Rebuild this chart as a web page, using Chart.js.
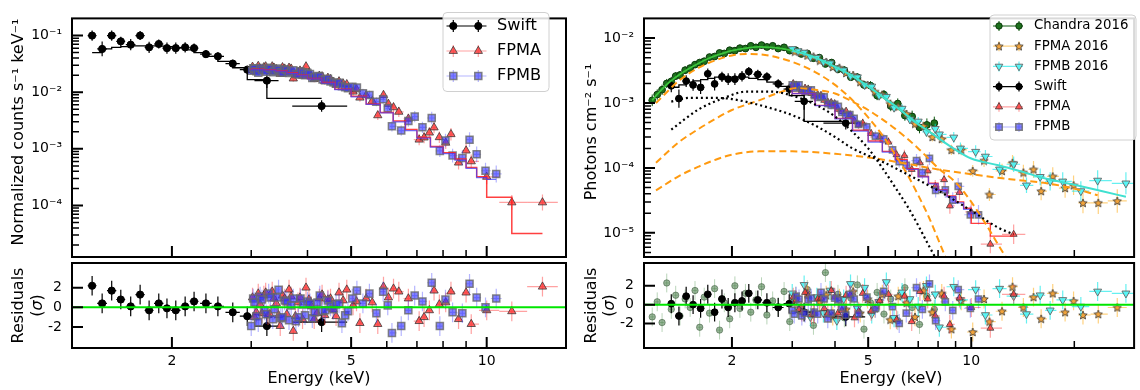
<!DOCTYPE html>
<html><head><meta charset="utf-8">
<script src="https://cdn.jsdelivr.net/npm/chart.js@4.4.0/dist/chart.umd.min.js"></script>
<style>
html,body{margin:0;padding:0;background:#fff;}
#wrap{position:relative;width:1140px;height:390px;overflow:hidden;}
canvas{position:absolute;left:0;top:0;}
</style></head><body>
<div id="wrap">
<canvas id="c1" width="1140" height="390"></canvas>
<canvas id="c2" width="1140" height="390"></canvas>
<canvas id="c3" width="1140" height="390"></canvas>
<canvas id="c4" width="1140" height="390"></canvas>
</div>
<script>
// ================= LEFT PANEL DATA =================
const L_swiftE = [1.33,1.40,1.47,1.54,1.62,1.70,1.78,1.87,1.95,2.04,2.14,2.24,2.38,2.53,2.73,2.94,3.25,4.30];
const L_swiftV = [0.100,0.058,0.100,0.079,0.069,0.100,0.062,0.071,0.060,0.060,0.062,0.060,0.047,0.043,0.032,0.025,0.016,0.0057];
const L_swiftXerr = [0.03,0.035,0.035,0.035,0.04,0.04,0.04,0.045,0.045,0.05,0.05,0.05,0.07,0.08,0.1,0.11,0.2,0.6];
const L_swiftYerr = [0.09,0.13,0.09,0.08,0.1,0.08,0.1,0.08,0.1,0.1,0.09,0.08,0.07,0.07,0.07,0.07,0.13,0.1];
const L_swiftModel = [0.050,0.050,0.058,0.062,0.064,0.066,0.066,0.066,0.065,0.064,0.061,0.056,0.050,0.043,0.035,0.027,0.0167,0.0078];
const L_swiftRes = [2.2,0.4,1.7,0.8,0.1,1.3,-0.3,0.4,-0.1,-0.3,0.1,0.6,0.4,0.1,-0.5,-0.9,-1.9,-1.5];

const L_fpmaE = [3.02,3.05,3.08,3.11,3.14,3.17,3.20,3.23,3.27,3.30,3.34,3.37,3.41,3.45,3.48,3.52,3.56,3.60,3.64,3.68,3.72,3.76,3.81,3.85,3.90,3.97,4.03,4.08,4.14,4.20,4.25,4.31,4.37,4.44,4.50,4.56,4.63,4.70,4.80,4.89,5.05,5.14,5.23,5.40,5.57,5.73,5.90,6.05,6.21,6.38,6.70,7.08,7.26,7.46,7.64,7.85,8.11,8.33,8.66,9.00,9.24,10.0,11.37,13.3];
const L_fpmaV = [0.028,0.0235,0.025,0.029,0.026,0.024,0.0275,0.0285,0.024,0.0235,0.0285,0.027,0.0255,0.023,0.021,0.0275,0.026,0.0225,0.027,0.026,0.0174,0.0205,0.0225,0.024,0.0195,0.0285,0.0215,0.0192,0.017,0.0178,0.0195,0.019,0.0155,0.0179,0.017,0.0152,0.0135,0.0155,0.0142,0.0138,0.0102,0.0112,0.0080,0.0088,0.0070,0.0039,0.0089,0.0062,0.0054,0.0045,0.0034,0.00145,0.00158,0.00193,0.00238,0.0016,0.00128,0.00181,0.00057,0.00093,0.00060,0.00032,0.000113,0.000113];
const L_fpmaYerr = [0.05,0.05,0.05,0.05,0.05,0.05,0.05,0.05,0.05,0.05,0.05,0.05,0.05,0.05,0.05,0.05,0.05,0.05,0.05,0.05,0.055,0.055,0.055,0.055,0.055,0.055,0.055,0.055,0.055,0.055,0.06,0.06,0.06,0.06,0.06,0.06,0.06,0.06,0.06,0.06,0.07,0.07,0.07,0.08,0.08,0.08,0.08,0.08,0.08,0.09,0.09,0.1,0.1,0.1,0.1,0.1,0.11,0.11,0.12,0.12,0.12,0.13,0.13,0.14];
const L_fpmaRes = [1.0,-1.0,-0.5,1.4,0.3,-0.6,1.2,1.5,-0.8,-0.7,1.6,0.9,0.4,-0.8,-1.9,1.2,0.9,-0.7,1.8,1.1,-2.4,-0.9,0.5,1.0,-1.2,2.0,0.8,0.1,-1.2,-0.6,0.9,1.3,-0.8,0.8,0.9,-0.2,-0.9,1.5,0.7,1.8,0.2,0.6,-1.6,0.9,0.5,-1.7,2.1,1.0,1.9,1.6,0.9,-1.4,-1.0,-0.3,1.7,0.3,0.5,1.6,-1.2,1.5,-1.7,-0.3,-0.4,2.1];

const L_fpmbE = [3.00,3.03,3.05,3.08,3.11,3.14,3.17,3.21,3.24,3.28,3.31,3.35,3.38,3.42,3.45,3.49,3.52,3.56,3.60,3.64,3.68,3.72,3.77,3.82,3.86,3.91,3.95,4.00,4.05,4.10,4.15,4.21,4.26,4.32,4.38,4.44,4.50,4.57,4.63,4.70,4.77,4.85,4.92,5.03,5.15,5.31,5.49,5.69,5.89,6.03,6.16,6.46,6.70,6.92,7.20,7.55,7.87,8.10,8.40,8.83,9.16,9.50,9.94,10.5];
const L_fpmbV = [0.024,0.0265,0.026,0.0235,0.022,0.0268,0.025,0.0245,0.023,0.027,0.026,0.0225,0.024,0.0262,0.025,0.0228,0.022,0.0255,0.0245,0.0218,0.023,0.0245,0.021,0.0205,0.0235,0.0222,0.020,0.0218,0.021,0.0178,0.0185,0.0192,0.019,0.0168,0.0165,0.0172,0.0155,0.0148,0.0142,0.0146,0.0128,0.0122,0.0118,0.0125,0.0121,0.0096,0.0089,0.0068,0.0075,0.0052,0.0025,0.0021,0.0031,0.0037,0.0024,0.0035,0.00092,0.0014,0.00076,0.00069,0.00145,0.0008,0.00041,0.00036];
const L_fpmbYerr = [0.05,0.05,0.05,0.05,0.05,0.05,0.05,0.05,0.05,0.05,0.05,0.05,0.05,0.05,0.05,0.05,0.05,0.05,0.05,0.05,0.055,0.055,0.055,0.055,0.055,0.055,0.055,0.055,0.055,0.055,0.06,0.06,0.06,0.06,0.06,0.06,0.06,0.06,0.06,0.06,0.07,0.07,0.07,0.07,0.07,0.08,0.08,0.08,0.08,0.08,0.09,0.09,0.1,0.1,0.1,0.11,0.11,0.12,0.12,0.13,0.13,0.14,0.14,0.15];
const L_fpmbRes = [-1.9,0.9,0.5,-0.9,-1.5,1.1,0.8,-0.3,-0.7,1.4,1.0,-1.2,-0.2,1.0,1.8,-1.1,-1.0,0.7,0.6,-1.3,0.2,0.9,-1.4,-1.0,0.9,0.3,-0.8,0.6,0.4,-1.1,-0.5,0.5,1.2,-0.4,-0.3,0.7,0.1,-0.2,0.3,0.4,-1.6,-0.8,-0.4,0.9,1.7,0.4,1.4,-0.6,1.6,0.2,-2.6,-1.9,-0.3,1.2,0.6,2.5,-1.9,0.8,-0.5,-0.6,2.4,1.0,0.0,0.9];

const L_modelAE = [3.0,3.2,3.4,3.6,3.8,4.0,4.3,4.6,5.0,5.4,5.8,6.2,6.6,7.0,7.5,8.0,8.5,9.0,9.5,10.0,11.37,13.3];
const L_modelA = [0.026,0.0255,0.025,0.024,0.022,0.020,0.0175,0.0148,0.0113,0.0085,0.0062,0.0044,0.0031,0.0022,0.0016,0.0011,0.00085,0.00066,0.00047,0.00032,0.00014,0.000032];
const L_modelBE = [3.0,3.2,3.4,3.6,3.8,4.0,4.3,4.6,5.0,5.4,5.8,6.2,6.6,7.0,7.5,8.0,8.5,9.0,9.5,10.0,10.5];
const L_modelB = [0.025,0.025,0.0245,0.0235,0.0215,0.0196,0.0172,0.0145,0.0111,0.0083,0.0061,0.0043,0.003,0.0021,0.00155,0.00107,0.00082,0.00063,0.00045,0.00031,0.00029];

// ================= RIGHT PANEL DATA =================
const R_swiftE = [1.33,1.40,1.47,1.54,1.62,1.70,1.78,1.87,1.95,2.04,2.14,2.24,2.38,2.53,2.73,2.94,3.25,4.30];
const R_swiftV = [0.00184,0.00117,0.00218,0.0019,0.00174,0.00282,0.00197,0.00253,0.00233,0.00233,0.00258,0.00305,0.00276,0.00253,0.00197,0.00164,0.00106,0.00049];
const R_swiftXerr = [0.03,0.035,0.035,0.035,0.04,0.04,0.04,0.045,0.045,0.05,0.05,0.05,0.07,0.08,0.1,0.11,0.2,0.6];
const R_swiftYerr = [0.1,0.14,0.09,0.09,0.1,0.08,0.1,0.08,0.09,0.09,0.08,0.07,0.07,0.07,0.07,0.08,0.13,0.1];
const R_swiftModel = [0.00175,0.00175,0.0019,0.0021,0.0022,0.0023,0.0024,0.0025,0.0025,0.0025,0.0025,0.0025,0.0024,0.0023,0.0021,0.0018,0.0013,0.00052];
const R_swiftRes = [0.1,-1.2,0.9,0.0,-0.4,1.1,-0.8,0.6,-0.3,0.2,0.4,1.2,0.5,0.2,-0.3,0.1,-0.8,-1.3];

const R_chanE = [1.17,1.21,1.25,1.29,1.33,1.37,1.41,1.46,1.51,1.56,1.61,1.66,1.72,1.78,1.84,1.90,1.97,2.04,2.11,2.19,2.27,2.35,2.44,2.53,2.63,2.73,2.84,2.95,3.07,3.19,3.32,3.46,3.60,3.75,3.91,4.08,4.26,4.45,4.65,4.86,5.08,5.31,5.56,5.82,6.10,6.40,6.72,7.06,7.42,7.80];
const R_chanV = [0.00110,0.00135,0.00160,0.00200,0.00215,0.00260,0.00270,0.00320,0.00345,0.00390,0.00420,0.00440,0.00510,0.00520,0.00590,0.00580,0.00650,0.00640,0.00700,0.00690,0.00760,0.00720,0.00780,0.00730,0.00760,0.00690,0.00720,0.00640,0.00650,0.00570,0.00580,0.00490,0.00500,0.00400,0.00420,0.00330,0.00320,0.00250,0.00250,0.00190,0.00185,0.00130,0.00135,0.00090,0.00098,0.00064,0.00062,0.00042,0.00046,0.00049];
const R_chanYerr = [0.09,0.08,0.08,0.07,0.07,0.06,0.06,0.06,0.05,0.05,0.05,0.05,0.05,0.05,0.05,0.05,0.05,0.05,0.05,0.05,0.05,0.05,0.05,0.05,0.05,0.05,0.05,0.05,0.05,0.05,0.05,0.05,0.05,0.05,0.05,0.06,0.06,0.06,0.06,0.06,0.07,0.07,0.07,0.08,0.08,0.08,0.09,0.09,0.1,0.1];
const R_chanRes = [-1.3,0.3,-1.9,2.3,-0.5,1.0,-1.2,0.6,-0.3,1.5,-2.4,0.8,-0.9,1.7,-2.7,0.2,-1.5,2.0,-0.4,1.2,-0.8,0.5,1.9,-1.1,0.4,-0.2,1.4,-1.8,0.9,-0.6,1.6,-2.2,0.3,3.4,-0.9,1.1,-1.4,0.7,2.1,-2.6,0.2,1.3,-1.0,0.6,-1.7,1.8,-0.3,-2.1,0.9,-0.5];

const R_fa16E = [3.05,3.18,3.32,3.46,3.61,3.77,3.94,4.12,4.31,4.52,4.74,4.98,5.23,5.50,5.80,6.12,6.47,6.85,7.25,7.70,8.20,8.75,9.35,10.1,10.9,11.3,12.3,13.2,14.2,15.2,16.0,17.3,18.8,19.9,21.2,23.5,26.7];
const R_fa16V = [0.0062,0.0060,0.0054,0.0052,0.0045,0.0043,0.0036,0.0035,0.0029,0.0027,0.0021,0.0019,0.0015,0.00135,0.00098,0.00088,0.00068,0.00048,0.00044,0.00030,0.00028,0.00019,0.00019,0.00009,0.00013,0.000039,0.00009,0.00012,0.000085,0.000095,0.000044,0.000074,0.000049,0.000054,0.000029,0.000029,0.000031];
const R_fa16Yerr = [0.04,0.04,0.04,0.04,0.04,0.04,0.045,0.045,0.045,0.05,0.05,0.05,0.05,0.055,0.055,0.06,0.06,0.065,0.07,0.07,0.075,0.08,0.085,0.09,0.1,0.1,0.11,0.12,0.12,0.13,0.14,0.14,0.15,0.15,0.16,0.17,0.18];
const R_fa16Res = [0.5,-0.3,1.2,-0.8,0.3,1.0,-1.2,0.7,-0.5,1.4,-0.9,0.6,-0.4,1.1,-1.6,0.9,0.2,-1.3,1.5,-0.8,1.2,-2.6,0.4,-2.9,0.6,-1.8,-0.7,1.9,-0.3,0.8,-1.5,1.2,-0.8,0.4,-1.1,-1.0,-0.3];

const R_fb16E = [3.00,3.12,3.25,3.39,3.54,3.70,3.87,4.05,4.24,4.44,4.65,4.88,5.12,5.38,5.65,5.95,6.28,6.62,7.00,7.40,7.85,8.07,8.89,9.3,10.3,11.0,12.1,13.3,14.5,15.9,17.0,18.5,20.9,23.4,28.3];
const R_fb16V = [0.0068,0.0063,0.0060,0.0051,0.0050,0.0043,0.0041,0.0034,0.0032,0.0026,0.0025,0.0019,0.0018,0.0013,0.00125,0.00085,0.00082,0.00056,0.00052,0.00036,0.00040,0.00033,0.000295,0.00020,0.000178,0.00015,0.000095,0.000114,0.000054,0.000073,0.000062,0.000062,0.000044,0.000064,0.000058];
const R_fb16Yerr = [0.04,0.04,0.04,0.04,0.04,0.04,0.045,0.045,0.045,0.05,0.05,0.05,0.055,0.055,0.06,0.06,0.065,0.07,0.07,0.075,0.08,0.08,0.085,0.09,0.1,0.1,0.11,0.12,0.12,0.13,0.14,0.14,0.15,0.16,0.17];
const R_fb16Res = [1.2,-0.5,2.1,-1.3,0.8,-0.9,1.5,-1.7,0.6,2.2,-0.4,1.8,-1.0,0.3,2.4,-1.4,1.3,0.6,-0.2,2.0,1.1,-2.4,1.9,0.5,1.6,-1.1,1.7,0.9,-1.0,1.0,-0.6,0.5,-0.2,1.4,1.2];

const R_faE = [3.02,3.08,3.14,3.20,3.27,3.34,3.41,3.48,3.56,3.64,3.72,3.81,3.90,3.99,4.08,4.19,4.31,4.43,4.56,4.69,4.82,5.10,5.40,5.73,6.05,6.38,6.70,7.08,7.46,7.85,8.33,8.66,9.24,10.0,11.37,13.3];
const R_faV = [0.0020,0.0019,0.0017,0.0016,0.0017,0.00165,0.0014,0.0013,0.00135,0.00132,0.0011,0.00104,0.00102,0.00098,0.0008,0.00074,0.00075,0.00066,0.00053,0.00046,0.00049,0.00034,0.0003,0.00025,0.00016,0.000155,0.000095,0.00012,0.00009,0.000052,0.000066,0.000026,0.000042,0.000021,0.0000067,0.0000095];
const R_faYerr = [0.05,0.05,0.05,0.05,0.05,0.05,0.05,0.05,0.05,0.05,0.06,0.06,0.06,0.06,0.06,0.06,0.06,0.06,0.06,0.06,0.07,0.07,0.08,0.08,0.08,0.09,0.09,0.1,0.1,0.1,0.11,0.12,0.12,0.13,0.14,0.15];
const R_faRes = [0.8,0.5,-0.5,-0.8,1.3,0.9,-1.1,-1.0,0.6,0.7,-0.4,-0.9,1.5,0.8,-0.9,-0.6,1.0,1.0,-1.4,-0.7,1.2,-0.7,0.4,1.1,-1.6,0.9,-1.8,1.4,0.6,-1.2,0.9,-2.1,0.7,-0.3,-2.5,1.1];

const R_fbE = [3.00,3.04,3.08,3.14,3.20,3.27,3.34,3.41,3.48,3.56,3.64,3.72,3.81,3.90,3.99,4.09,4.19,4.30,4.42,4.55,4.68,4.95,5.25,5.55,5.89,6.16,6.46,6.92,7.20,7.55,7.87,8.40,8.83,9.16,9.94,10.5];
const R_fbV = [0.0019,0.0017,0.00185,0.0019,0.0016,0.00148,0.00155,0.0016,0.0013,0.00122,0.00125,0.00124,0.00098,0.00092,0.00095,0.00089,0.00072,0.00064,0.00066,0.00058,0.00047,0.00043,0.00031,0.00028,0.00019,0.000125,0.00011,0.00013,0.000085,0.00014,0.000045,0.000046,0.000032,0.000052,0.000019,0.000019];
const R_fbYerr = [0.05,0.05,0.05,0.05,0.05,0.05,0.05,0.05,0.05,0.05,0.06,0.06,0.06,0.06,0.06,0.06,0.06,0.06,0.06,0.06,0.07,0.07,0.08,0.08,0.08,0.09,0.09,0.1,0.1,0.1,0.11,0.12,0.12,0.13,0.14,0.15];
const R_fbRes = [-0.6,-1.0,0.9,0.6,-1.2,-0.9,0.5,0.7,-0.8,-1.0,1.3,0.6,-1.5,-0.9,0.7,0.5,-0.3,-1.1,1.1,0.6,-1.0,0.8,-0.4,1.4,-0.2,-2.0,-0.9,1.8,-0.5,2.2,-1.7,0.3,-0.6,1.6,-0.4,0.6];

// models (right)
const R_m16E = [1.17,1.2,1.3,1.4,1.5,1.6,1.7,1.8,1.9,2.0,2.2,2.4,2.6,2.8,3.0,3.3,3.6,4.0,4.5,5.0,5.5,6.0,6.5,7.0,7.5,7.8,8.0,9.0,10,12,14,16.6,20,24,28.3];
const R_m16V = [0.0011,0.0013,0.002,0.0027,0.0034,0.0041,0.0048,0.0054,0.0059,0.0064,0.0070,0.0073,0.0072,0.0069,0.0064,0.0056,0.0047,0.0036,0.0026,0.0018,0.00125,0.0009,0.00064,0.00047,0.00037,0.00032,0.00029,0.00019,0.00014,0.00011,0.000088,0.000068,0.000055,0.000044,0.000036];
const R_m19AE = [3.0,3.5,4.0,4.5,5.0,5.5,6.0,6.5,7.0,7.5,8.0,8.5,9.0,9.5,10.0,11.37,13.3];
const R_m19A = [0.0019,0.0014,0.00092,0.00058,0.00038,0.00026,0.00018,0.000135,0.000097,0.000074,0.000058,0.000046,0.000037,0.00003,0.000024,0.000014,0.0000089];
const R_m19BE = [3.0,3.5,4.0,4.5,5.0,5.5,6.0,6.5,7.0,7.5,8.0,8.5,9.0,9.5,10.0,10.5];
const R_m19B = [0.0019,0.0014,0.00091,0.00057,0.00037,0.00025,0.000175,0.00013,0.000095,0.000073,0.000057,0.000045,0.000036,0.000029,0.000023,0.00002];
const R_dotAE = [1.33,1.6,1.9,2.2,2.6,3.0,3.5,4.0,4.5,5.0,5.5,6.0,6.5,7.0,7.5,8.0];
const R_dotAV = [0.00039,0.0008,0.0012,0.0015,0.0015,0.0013,0.00095,0.00062,0.00036,0.0002,0.0001,0.00005,0.000026,0.000013,0.0000065,0.0000035];
const R_dotBE = [1.33,1.5,1.8,2.0,2.5,3.0,3.5,4.0,4.5,5.5,6.5,8.0,10.0,12.0,13.3];
const R_dotBV = [0.00105,0.0012,0.0012,0.00115,0.00088,0.00065,0.00045,0.0003,0.0002,0.000125,0.00008,0.000045,0.000022,0.000012,0.0000095];
const R_o1E = [1.2,1.4,1.6,1.8,2.0,2.2,2.5,3.0,3.5,4.0,4.5,5.0,5.5,6.0,6.5,7.0,7.5,8.0,8.5];
const R_o1V = [0.001,0.0022,0.0035,0.0046,0.0054,0.0057,0.0055,0.0043,0.003,0.0019,0.0011,0.0006,0.00032,0.00016,0.00008,0.000038,0.000018,0.000008,0.0000037];
const R_o2E = [1.2,1.4,1.6,1.8,2.0,2.4,2.8,3.1,3.5,4.0,4.5,5.0,6.0,7.0,8.0,9.0,10.0,11.0,12.0,12.7];
const R_o2V = [0.00012,0.00025,0.0004,0.00058,0.00078,0.0011,0.0015,0.0017,0.0016,0.0014,0.00105,0.00078,0.0004,0.0002,0.0001,0.00006,0.00003,0.000014,0.0000065,0.000004];
const R_o3E = [1.2,1.4,1.6,1.8,2.0,2.4,3.0,4.0,5.0,6.0,8.0,10.0,13.0,16.6,20.0,23.4];
const R_o3V = [0.000045,0.000075,0.000105,0.000135,0.00016,0.00018,0.00018,0.000165,0.000145,0.000125,0.000095,0.00008,0.000067,0.000058,0.000048,0.000038];

// ticks
const X_major = [2,5,10];
const X_labels = ['2','5','10'];
const XL_minor = [3,4,6,7,8,9];
const XR_minor = [3,4,6,7,8,9,20];
const YL_major = [1e-4,1e-3,1e-2,1e-1];
const YL_labels = ['10⁻⁴','10⁻³','10⁻²','10⁻¹'];
const YR_major = [1e-5,1e-4,1e-3,1e-2];
const YR_labels = ['10⁻⁵','10⁻⁴','10⁻³','10⁻²'];
const RES_major = [-2,0,2];
const RES_labels = ['-2','0','2'];

// ================= helpers =================
const FONT = '"DejaVu Sans", sans-serif';
Chart.defaults.font.family = FONT;

function minorLog(min,max){
  const out=[];
  for(let d=-7; d<=2; d++) for(let m=2;m<=9;m++){ const v=m*Math.pow(10,d); if(v>min*1.001 && v<max*0.999) out.push(v); }
  return out;
}
function geoErr(E){
  const n=E.length, lo=[], hi=[];
  for(let i=0;i<n;i++){
    const a = i>0 ? Math.sqrt(E[i-1]*E[i]) : E[0]*Math.sqrt(E[0]/E[1]);
    const b = i<n-1 ? Math.sqrt(E[i]*E[i+1]) : E[n-1]*Math.sqrt(E[n-1]/E[n-2]);
    lo.push(a); hi.push(b);
  }
  return {xlo:lo, xhi:hi};
}
function symErr(E,X){ return {xlo:E.map((e,i)=>e-X[i]), xhi:E.map((e,i)=>e+X[i])}; }
function mainErr(V,dex,xe){ return Object.assign({ylo:V.map((v,i)=>v/Math.pow(10,dex[i])), yhi:V.map((v,i)=>v*Math.pow(10,dex[i]))}, xe); }
function resErr(R,xe){ return Object.assign({ylo:R.map(r=>r-1), yhi:R.map(r=>r+1)}, xe); }

function makeStar(size, fill, stroke){
  const c=document.createElement('canvas'); c.width=size; c.height=size;
  const g=c.getContext('2d'); const cx=size/2, cy=size/2+0.4, R=size/2-0.6, r=R*0.45;
  g.beginPath();
  for(let k=0;k<10;k++){ const a=-Math.PI/2+k*Math.PI/5; const rr=k%2?r:R; const px=cx+rr*Math.cos(a), py=cy+rr*Math.sin(a); k?g.lineTo(px,py):g.moveTo(px,py); }
  g.closePath(); g.fillStyle=fill; g.fill(); g.strokeStyle=stroke; g.lineWidth=0.8; g.stroke();
  return c;
}

const ST = {
  swift: {pointStyle:'circle', bg:'#000', border:'#000', bw:1, err:'#000', errW:1.2},
  fpma:  {pointStyle:'triangle', bg:'rgba(255,45,45,0.75)', border:'rgba(50,50,50,0.75)', bw:1, err:'rgba(255,70,70,0.5)', errW:1.2},
  fpmb:  {pointStyle:'rect', bg:'rgba(50,50,255,0.6)', border:'rgba(105,105,105,0.8)', bw:1.5, err:'rgba(70,70,255,0.4)', errW:1.2},
  chan:  {pointStyle:'circle', bg:'#1d701d', border:'#0b3a0b', bw:1, err:'#0f5a0f', errW:1},
  chanR: {pointStyle:'circle', bg:'rgba(70,120,70,0.55)', border:'rgba(50,80,50,0.5)', bw:1, err:'rgba(80,150,80,0.4)', errW:1},
  fa16:  {pointStyle:makeStar(10,'#f2a33a','#333'), bg:'#f2a33a', border:'#333', bw:0, err:'rgba(255,165,0,0.5)', errW:1.2},
  fb16:  {pointStyle:'triangle', rotation:180, bg:'rgba(80,245,245,0.9)', border:'rgba(100,100,100,0.9)', bw:1, err:'rgba(0,230,230,0.6)', errW:1.2}
};

function ptsDS(E,V,err,st,r){
  return {data:E.map((e,i)=>({x:e,y:V[i]})), showLine:false, pointStyle:st.pointStyle, pointRadius:r, pointHoverRadius:r,
    pointRotation:st.rotation||0, pointBackgroundColor:st.bg, pointBorderColor:st.border, pointBorderWidth:st.bw,
    err:Object.assign({color:st.err, width:st.errW}, err)};
}
function lineDS(E,V,color,width,extra){
  return Object.assign({data:E.map((e,i)=>({x:e,y:V[i]})), showLine:true, pointRadius:0, pointHoverRadius:0, borderColor:color, borderWidth:width, fill:false}, extra||{});
}
function ordered(list){ return list.map((d,i)=>Object.assign(d,{order:-i})); }
function filt(E,V,f){ const e=[],v=[]; E.forEach((x,i)=>{ if(f(x)){e.push(x);v.push(V[i]);} }); return [e,v]; }

function drawMarker(ctx, st, x, y, r){
  const s = st.pointStyle;
  if (s instanceof HTMLCanvasElement){ ctx.drawImage(s, x-s.width/2, y-s.height/2); return; }
  ctx.beginPath();
  if (s==='circle') ctx.arc(x,y,r,0,Math.PI*2);
  else if (s==='triangle'){ const rot=(st.rotation||0)*Math.PI/180; for(let k=0;k<3;k++){ const a=rot+k*2*Math.PI/3; const px=x+Math.sin(a)*r, py=y-Math.cos(a)*r; k?ctx.lineTo(px,py):ctx.moveTo(px,py);} ctx.closePath(); }
  else if (s==='rect'){ const h=r*Math.SQRT1_2; ctx.rect(x-h,y-h,2*h,2*h); }
  ctx.fillStyle=st.bg; ctx.fill();
  if (st.bw){ ctx.strokeStyle=st.border; ctx.lineWidth=st.bw; ctx.stroke(); }
}
function drawText(ctx,t){
  ctx.save(); ctx.translate(t.x,t.y); if(t.rot) ctx.rotate(t.rot);
  ctx.fillStyle='#000'; ctx.textBaseline='middle'; ctx.textAlign='left';
  const parts = t.parts || [{s:t.text}];
  let total=0;
  parts.forEach(p=>{ ctx.font=(p.it?'italic ':'')+t.size+'px '+FONT; p.w=ctx.measureText(p.s).width; total+=p.w; });
  let x=-total/2;
  parts.forEach(p=>{ ctx.font=(p.it?'italic ':'')+t.size+'px '+FONT; ctx.fillText(p.s,x,0); x+=p.w; });
  ctx.restore();
}
function drawLegend(ctx,L){
  ctx.save();
  const r=4, x0=L.box[0], y0=L.box[1], x1=L.box[2], y1=L.box[3];
  ctx.beginPath();
  ctx.moveTo(x0+r,y0); ctx.lineTo(x1-r,y0); ctx.arcTo(x1,y0,x1,y0+r,r); ctx.lineTo(x1,y1-r); ctx.arcTo(x1,y1,x1-r,y1,r);
  ctx.lineTo(x0+r,y1); ctx.arcTo(x0,y1,x0,y1-r,r); ctx.lineTo(x0,y0+r); ctx.arcTo(x0,y0,x0+r,y0,r); ctx.closePath();
  ctx.fillStyle='rgba(255,255,255,0.85)'; ctx.fill(); ctx.strokeStyle='#d0d0d0'; ctx.lineWidth=1; ctx.stroke();
  L.entries.forEach((e,i)=>{
    const y=L.y0+i*L.dy, st=e.st;
    ctx.strokeStyle=st.err; ctx.lineWidth=st.errW;
    ctx.beginPath(); ctx.moveTo(L.lx0,y); ctx.lineTo(L.lx1,y);
    L.mk.forEach(mx=>{ ctx.moveTo(mx,y-L.eh); ctx.lineTo(mx,y+L.eh); });
    ctx.stroke();
    L.mk.forEach(mx=>drawMarker(ctx,st,mx,y,e.r));
    ctx.fillStyle='#000'; ctx.font=L.size+'px '+FONT; ctx.textBaseline='middle'; ctx.textAlign='left';
    ctx.fillText(e.label, L.tx, y);
  });
  ctx.restore();
}

const deco = {
  id:'deco',
  beforeDatasetDraw(chart,args){
    const ds=chart.data.datasets[args.index];
    if(!ds.err) return;
    const ctx=chart.ctx, xs=chart.scales.x, ys=chart.scales.y, a=chart.chartArea, e=ds.err;
    ctx.save(); ctx.beginPath(); ctx.rect(a.left,a.top,a.right-a.left,a.bottom-a.top); ctx.clip();
    ctx.strokeStyle=e.color; ctx.lineWidth=e.width;
    ds.data.forEach((p,i)=>{
      const px=xs.getPixelForValue(p.x), py=ys.getPixelForValue(p.y);
      ctx.beginPath();
      ctx.moveTo(xs.getPixelForValue(e.xlo[i]),py); ctx.lineTo(xs.getPixelForValue(e.xhi[i]),py);
      ctx.moveTo(px,ys.getPixelForValue(e.ylo[i])); ctx.lineTo(px,ys.getPixelForValue(e.yhi[i]));
      ctx.stroke();
    });
    ctx.restore();
  },
  afterDatasetsDraw(chart){
    const o=chart.options.plugins.deco, ctx=chart.ctx, a=chart.chartArea, xs=chart.scales.x, ys=chart.scales.y;
    ctx.save();
    if(o.zero){
      const py=ys.getPixelForValue(0);
      ctx.strokeStyle='#00e600'; ctx.lineWidth=2; ctx.beginPath(); ctx.moveTo(a.left,py); ctx.lineTo(a.right,py); ctx.stroke();
    }
    ctx.strokeStyle='#000';
    const tick=(vals,len,w,axis)=>{
      ctx.lineWidth=w; ctx.beginPath();
      vals.forEach(v=>{
        if(axis==='x'){ const px=xs.getPixelForValue(v); if(px<a.left+1||px>a.right-1) return; ctx.moveTo(px,a.bottom); ctx.lineTo(px,a.bottom-len); }
        else { const py=ys.getPixelForValue(v); if(py<a.top+1||py>a.bottom-1) return; ctx.moveTo(a.left,py); ctx.lineTo(a.left+len,py); }
      });
      ctx.stroke();
    };
    tick(o.xMajor,11,2,'x'); tick(o.xMinor,7,1.5,'x');
    tick(o.yMajor,11,2,'y'); tick(o.yMinor||[],7,1.5,'y');
    ctx.lineWidth=2; ctx.strokeRect(a.left,a.top,a.right-a.left,a.bottom-a.top);
    ctx.restore();
    if(o.legend) drawLegend(ctx,o.legend);
    (o.texts||[]).forEach(t=>drawText(ctx,t));
  }
};

function buildChart(id, o){
  const W=1140, H=390;
  return new Chart(document.getElementById(id), {
    type:'scatter',
    data:{datasets:ordered(o.datasets)},
    options:{
      responsive:false, animation:false, events:[], devicePixelRatio:1,
      layout:{padding:{left:0, top:o.area.t, right:W-o.area.r, bottom:0}},
      plugins:{legend:{display:false}, tooltip:{enabled:false}, deco:o.deco},
      scales:{
        x:{type:'logarithmic', position:'bottom', min:o.xMin, max:o.xMax,
          afterFit:s=>{s.height=H-o.area.b;},
          afterBuildTicks:s=>{s.ticks=X_major.map(v=>({value:v}));},
          ticks:{display:o.xLabels, autoSkip:false, maxRotation:0, minRotation:0, padding:5, color:'#000', font:{family:FONT,size:14},
                 callback:(v,i)=>X_labels[i]},
          grid:{display:false, drawTicks:false}, border:{display:false}},
        y:{type:o.yType, position:'left', min:o.yMin, max:o.yMax,
          afterFit:s=>{s.width=o.area.l;},
          afterBuildTicks:s=>{s.ticks=o.yMajor.map(v=>({value:v}));},
          ticks:{autoSkip:false, padding:10, color:'#000', font:{family:FONT,size:14}, callback:(v,i)=>o.yLabels[i]},
          grid:{display:false, drawTicks:false}, border:{display:false}}
      }
    },
    plugins:[deco]
  });
}

// ================= LEFT MAIN =================
const L_xMin=1.2, L_xMax=15.0, R_xMin=1.107, R_xMax=29.9;
const swiftLX = symErr(L_swiftE,L_swiftXerr), fpmaLX=geoErr(L_fpmaE), fpmbLX=geoErr(L_fpmbE);
const STEP = {stepped:'after'};
buildChart('c1', {
  area:{l:72,r:566,t:7,b:257}, xMin:L_xMin, xMax:L_xMax, xLabels:false,
  yType:'logarithmic', yMin:1.23e-5, yMax:0.201, yMajor:YL_major, yLabels:YL_labels,
  datasets:[
    ptsDS(L_swiftE,L_swiftV,mainErr(L_swiftV,L_swiftYerr,swiftLX),ST.swift,3.6),
    ptsDS(L_fpmaE,L_fpmaV,mainErr(L_fpmaV,L_fpmaYerr,fpmaLX),ST.fpma,4.8),
    ptsDS(L_fpmbE,L_fpmbV,mainErr(L_fpmbV,L_fpmbYerr,fpmbLX),ST.fpmb,5.0),
    lineDS(L_swiftE,L_swiftModel,'#000',1.3,STEP),
    lineDS(L_modelAE,L_modelA,'rgba(255,30,30,0.85)',1.5,STEP),
    lineDS(L_modelBE,L_modelB,'rgba(60,60,255,0.7)',1.3,STEP)
  ],
  deco:{xMajor:X_major, xMinor:XL_minor, yMajor:YL_major, yMinor:minorLog(1.23e-5,0.201),
    legend:{box:[443,12.5,549,91.5], y0:26, dy:25, lx0:446.5, lx1:486.5, mk:[453.3,478.3], eh:6, tx:497, size:16.2,
      entries:[{label:'Swift',st:ST.swift,r:3.6},{label:'FPMA',st:ST.fpma,r:4.8},{label:'FPMB',st:ST.fpmb,r:5.0}]},
    texts:[{text:'Normalized counts s⁻¹ keV⁻¹', x:19, y:132, rot:-Math.PI/2, size:16}]}
});

// ================= LEFT RESID =================
buildChart('c2', {
  area:{l:72,r:566,t:263,b:348}, xMin:L_xMin, xMax:L_xMax, xLabels:true,
  yType:'linear', yMin:-4.13, yMax:4.51, yMajor:RES_major, yLabels:RES_labels,
  datasets:[
    ptsDS(L_swiftE,L_swiftRes,resErr(L_swiftRes,swiftLX),ST.swift,3.6),
    ptsDS(L_fpmaE,L_fpmaRes,resErr(L_fpmaRes,fpmaLX),ST.fpma,4.8),
    ptsDS(L_fpmbE,L_fpmbRes,resErr(L_fpmbRes,fpmbLX),ST.fpmb,5.0)
  ],
  deco:{xMajor:X_major, xMinor:XL_minor, yMajor:RES_major, yMinor:[], zero:true,
    texts:[{text:'Residuals', x:19, y:305.5, rot:-Math.PI/2, size:16},
           {parts:[{s:'('},{s:'σ',it:true},{s:')'}], x:37.5, y:305.5, rot:-Math.PI/2, size:16},
           {text:'Energy (keV)', x:319, y:379, size:16}]}
});

// ================= RIGHT MAIN =================
const swiftRX=symErr(R_swiftE,R_swiftXerr), chanX=geoErr(R_chanE), fa16X=geoErr(R_fa16E), fb16X=geoErr(R_fb16E), faX=geoErr(R_faE), fbX=geoErr(R_fbE);
const [gE,gV] = filt(R_m16E,R_m16V,e=>e<=7.8);
const [cE,cV] = filt(R_m16E,R_m16V,e=>e>=3.0);
const dashO = {borderDash:[7,4], cubicInterpolationMode:'monotone'};
const dotK = {borderDash:[2,3], cubicInterpolationMode:'monotone'};
buildChart('c3', {
  area:{l:644,r:1138,t:7,b:257}, xMin:R_xMin, xMax:R_xMax, xLabels:false,
  yType:'logarithmic', yMin:4.25e-6, yMax:0.0201, yMajor:YR_major, yLabels:YR_labels,
  datasets:[
    ptsDS(R_chanE,R_chanV,mainErr(R_chanV,R_chanYerr,chanX),ST.chan,3.4),
    ptsDS(R_fa16E,R_fa16V,mainErr(R_fa16V,R_fa16Yerr,fa16X),ST.fa16,4),
    ptsDS(R_fb16E,R_fb16V,mainErr(R_fb16V,R_fb16Yerr,fb16X),ST.fb16,4.6),
    ptsDS(R_swiftE,R_swiftV,mainErr(R_swiftV,R_swiftYerr,swiftRX),ST.swift,3.4),
    ptsDS(R_faE,R_faV,mainErr(R_faV,R_faYerr,faX),ST.fpma,4.0),
    ptsDS(R_fbE,R_fbV,mainErr(R_fbV,R_fbYerr,fbX),ST.fpmb,4.4),
    lineDS(gE,gV,'#3cc43c',1.8,{cubicInterpolationMode:'monotone'}),
    lineDS(cE,cV,'#40e0d0',2,{cubicInterpolationMode:'monotone'}),
    lineDS(R_swiftE,R_swiftModel,'#000',1.3,STEP),
    lineDS(R_m19AE,R_m19A,'rgba(255,30,30,0.85)',1.4,STEP),
    lineDS(R_m19BE,R_m19B,'rgba(60,60,255,0.7)',1.3,STEP),
    lineDS(R_o1E,R_o1V,'#ff9a10',2,dashO),
    lineDS(R_o2E,R_o2V,'#ff9a10',2,dashO),
    lineDS(R_o3E,R_o3V,'#ff9a10',2,dashO),
    lineDS(R_dotAE,R_dotAV,'#000',2.2,dotK),
    lineDS(R_dotBE,R_dotBV,'#000',2.2,dotK)
  ],
  deco:{xMajor:X_major, xMinor:XR_minor, yMajor:YR_major, yMinor:minorLog(4.25e-6,0.0201),
    legend:{box:[990,15,1136,140], y0:26, dy:20.2, lx0:993, lx1:1023, mk:[999,1019], eh:5, tx:1034, size:13.3,
      entries:[{label:'Chandra 2016',st:ST.chan,r:3.2},{label:'FPMA 2016',st:ST.fa16,r:4},{label:'FPMB 2016',st:ST.fb16,r:4.4},
               {label:'Swift',st:ST.swift,r:3.2},{label:'FPMA',st:ST.fpma,r:4.2},{label:'FPMB',st:ST.fpmb,r:4.6}]},
    texts:[{text:'Photons cm⁻² s⁻¹', x:592, y:132, rot:-Math.PI/2, size:16}]}
});

// ================= RIGHT RESID =================
buildChart('c4', {
  area:{l:644,r:1138,t:263,b:348}, xMin:R_xMin, xMax:R_xMax, xLabels:true,
  yType:'linear', yMin:-4.6, yMax:4.42, yMajor:RES_major, yLabels:RES_labels,
  datasets:[
    ptsDS(R_chanE,R_chanRes,resErr(R_chanRes,chanX),ST.chanR,3.2),
    ptsDS(R_fa16E,R_fa16Res,resErr(R_fa16Res,fa16X),ST.fa16,4),
    ptsDS(R_fb16E,R_fb16Res,resErr(R_fb16Res,fb16X),ST.fb16,4.6),
    ptsDS(R_swiftE,R_swiftRes,resErr(R_swiftRes,swiftRX),ST.swift,3.4),
    ptsDS(R_faE,R_faRes,resErr(R_faRes,faX),ST.fpma,4.0),
    ptsDS(R_fbE,R_fbRes,resErr(R_fbRes,fbX),ST.fpmb,4.4)
  ],
  deco:{xMajor:X_major, xMinor:XR_minor, yMajor:RES_major, yMinor:[], zero:true,
    texts:[{text:'Residuals', x:592, y:305.5, rot:-Math.PI/2, size:16},
           {parts:[{s:'('},{s:'σ',it:true},{s:')'}], x:610, y:305.5, rot:-Math.PI/2, size:16},
           {text:'Energy (keV)', x:891, y:379, size:16}]}
});
</script>
</body></html>
